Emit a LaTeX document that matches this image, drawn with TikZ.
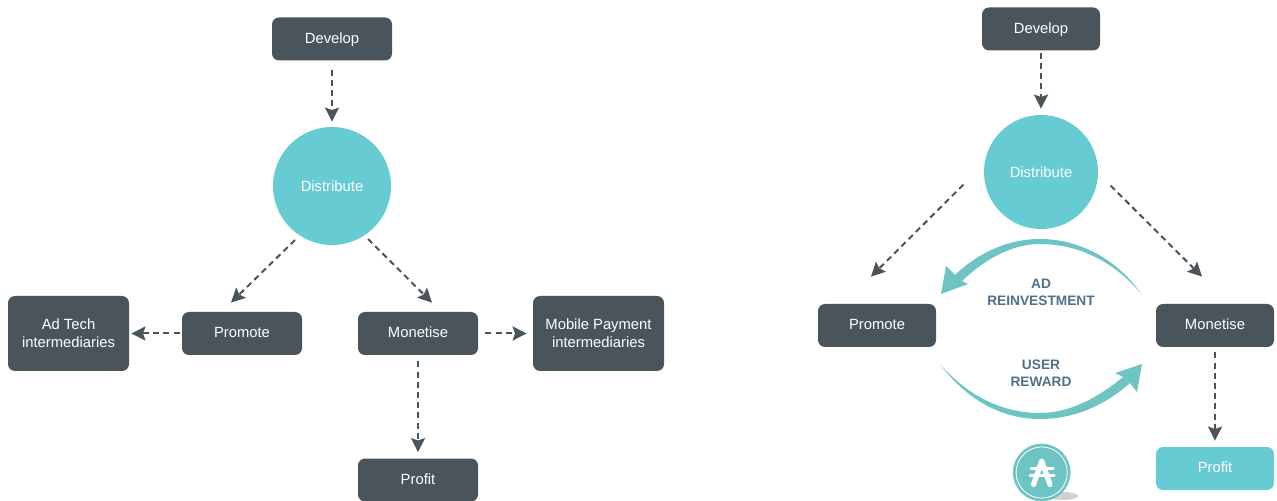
\documentclass[tikz,border=0pt]{standalone}
\usepackage{fontspec}
\setmainfont{Liberation Sans}
\usetikzlibrary{arrows.meta}
\definecolor{darkbox}{HTML}{4A555B}
\definecolor{tealc}{HTML}{67CBD3}
\definecolor{tealarrow}{HTML}{6EC3C3}
\definecolor{bluetext}{HTML}{4F6F8A}
\tikzset{
  x=0.5pt,y=-0.5pt,
  box/.style={fill=darkbox,rounded corners=3.5pt,text=white,inner sep=0pt,align=center,font=\fontsize{7.4pt}{9.2pt}\selectfont},
  lbox/.style={box,minimum width=60pt,minimum height=21.5pt,text height=5.9pt,text depth=1.5pt},
  rbox/.style={box,minimum width=59pt,minimum height=21.5pt,text height=5.9pt,text depth=1.5pt},
  bigbox/.style={box,minimum height=37.5pt},
  disc/.style={circle,fill=tealc,text=white,inner sep=0pt,font=\fontsize{7.4pt}{9pt}\selectfont},
  flow/.style={draw=darkbox,line width=1pt,dash pattern=on 3pt off 2.1pt,-{Stealth[length=7pt,width=7pt,inset=1.2pt]}},
  caption/.style={text=bluetext,align=center,inner sep=0pt,font=\fontsize{6.85pt}{8.7pt}\selectfont\bfseries},
  sweep/.style={fill=tealarrow,draw=none}
}
\begin{document}
\begin{tikzpicture}
\useasboundingbox (0,0) rectangle (1277,501);
% left diagram
\node[lbox] (ldev) at (332,39) {Develop};
\node[disc,minimum size=59pt] (ldist) at (332,186) {Distribute};
\node[lbox] (lprom) at (242,333.5) {Promote};
\node[lbox] (lmon) at (418,333.5) {Monetise};
\node[lbox] (lprof) at (418,480) {Profit};
\node[bigbox,minimum width=60.5pt] (adtech) at (68.5,333.5) {Ad Tech\\intermediaries};
\node[bigbox,minimum width=65.5pt] (mobile) at (598.5,333.5) {Mobile Payment\\intermediaries};
\draw[flow,shorten <=4.5pt,shorten >=2.5pt] (ldev) -- (ldist);
\draw[flow] ([shift={(5,12)}]ldist.south west) -- ([shift={(-11,-9)}]lprom.north);
\draw[flow] ([shift={(-6,11)}]ldist.south east) -- ([shift={(14,-9)}]lmon.north);
\draw[flow,shorten <=1pt,shorten >=1pt] (lprom) -- (adtech);
\draw[flow,shorten <=3.5pt,shorten >=3pt] (lmon) -- (mobile);
\draw[flow,shorten <=3pt,shorten >=3pt] (lmon) -- (lprof);
% right diagram
\node[rbox] (rdev) at (1041,29) {Develop};
\node[disc,minimum size=57pt] (rdist) at (1041,172) {Distribute};
\node[rbox] (rprom) at (877,325.5) {Promote};
\node[rbox] (rmon) at (1215,325.5) {Monetise};
\node[rbox,fill=tealc] (rprof) at (1215,468.5) {Profit};
\draw[flow,shorten <=1pt,shorten >=3pt] (rdev) -- (rdist);
\draw[flow] ([shift={(-37,-28)}]rdist.south west) -- ([shift={(-6,-27)}]rprom.north);
\draw[flow] ([shift={(29,-27)}]rdist.south east) -- ([shift={(-13,-27)}]rmon.north);
\draw[flow,shorten <=2.5pt,shorten >=3pt] (rmon) -- (rprof);
% curved arrows
\fill[sweep] (941,294) -- (946,266) -- (955,275)
  .. controls (980,251) and (1010,239) .. (1040,239)
  .. controls (1080,239) and (1118,260) .. (1142,295)
  .. controls (1116,263) and (1080,244) .. (1040,244)
  .. controls (1012,244) and (985,259) .. (962,281)
  -- (968,284) -- cycle;
\fill[sweep] (1142,364) -- (1137,392) -- (1130,383)
  .. controls (1105,405) and (1075,419) .. (1040,419)
  .. controls (1000,419) and (965,398) .. (940,364)
  .. controls (966,394) and (1000,413) .. (1040,413)
  .. controls (1070,413) and (1099,397) .. (1123,377)
  -- (1115,373) -- cycle;
\node[caption] (adre) at (1041,292.5) {AD\\REINVESTMENT};
\node[caption] (urew) at (1041,373) {USER\\REWARD};
% token logo
\fill[black!18] (1063,496) ellipse (15 and 4);
\fill[tealarrow] (1041.7,472.5) circle (14.4pt);
\draw[white,line width=0.4pt] (1041.7,472.5) circle (12.8pt);
\draw[white,line width=2.6pt,line cap=round,line join=round] (1033.5,484.5) -- (1041.7,461) -- (1050,484.5);
\draw[white,line width=1.5pt,line cap=round] (1031,468.5) -- (1053,468.5) (1030,475) -- (1054,475);
\end{tikzpicture}
\end{document}
